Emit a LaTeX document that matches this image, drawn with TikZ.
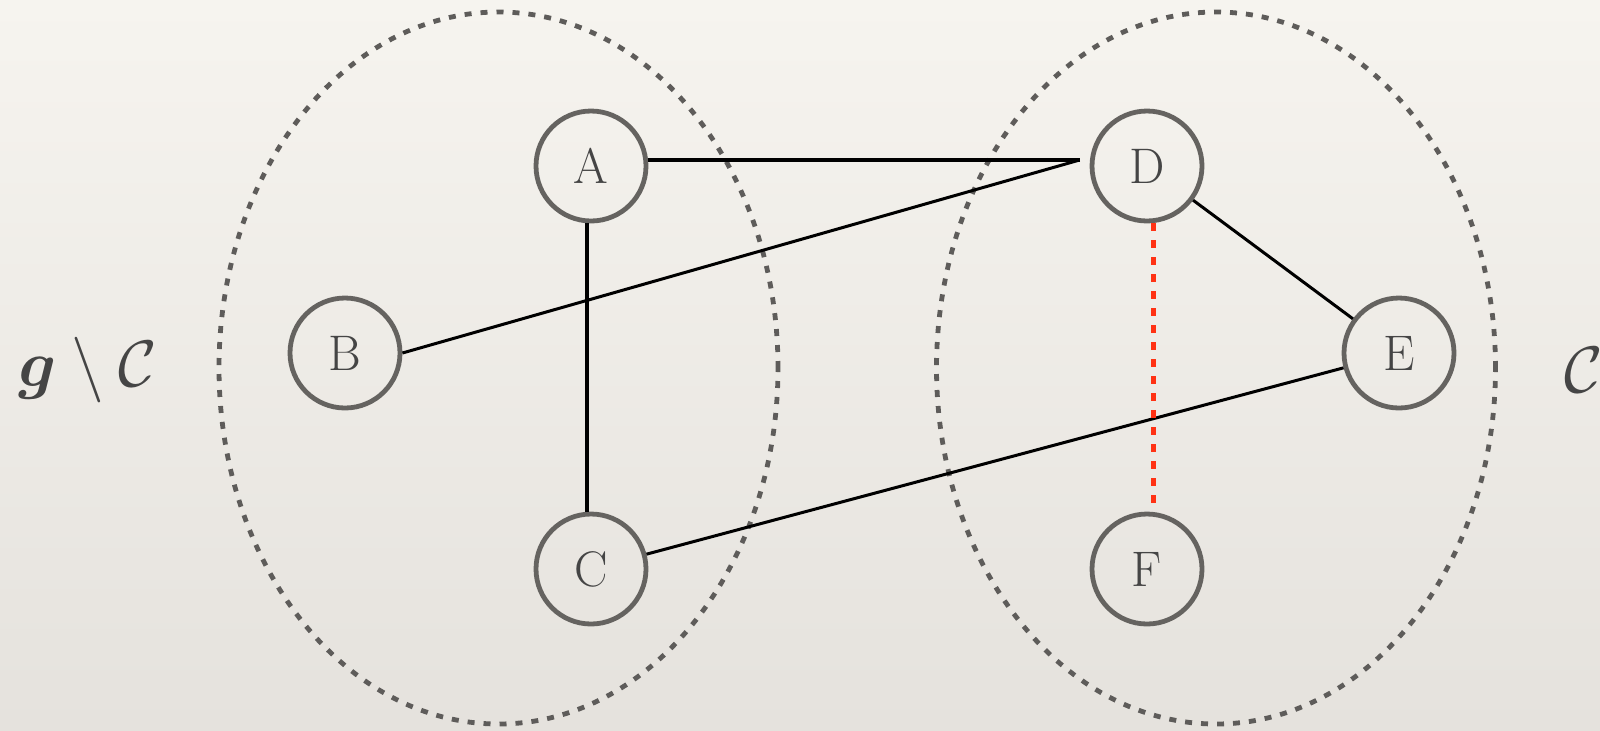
\documentclass[tikz,border=0pt]{standalone}
\usepackage{amsmath,amssymb,bm,graphicx}
\usetikzlibrary{shapes.geometric}
\definecolor{paperTop}{HTML}{F6F4EF}
\definecolor{paperBot}{HTML}{E5E2DD}
\definecolor{ringgray}{HTML}{656360}
\definecolor{textgray}{HTML}{454545}
\definecolor{dotgray}{HTML}{5E5C5A}
\definecolor{redlink}{HTML}{FF3214}
\newcommand{\biglabel}[1]{\scalebox{1.32}{#1}}
\tikzset{
  vertex/.style={circle, draw=ringgray, line width=2.4pt, minimum size=55pt,
    inner sep=0pt, text=textgray, font=\fontsize{25}{30}\selectfont},
  group/.style={ellipse, draw=dotgray, line width=2.4pt, inner sep=0pt,
    minimum width=279.5pt, minimum height=356pt,
    dash pattern=on 3.5pt off 4.5pt},
  edge/.style={black, line width=1.5pt},
  thickedge/.style={black, line width=2.3pt},
  cutedge/.style={redlink, line width=2.5pt, dash pattern=on 4pt off 4.5pt},
  setlabel/.style={text=textgray, inner sep=0pt, font=\fontsize{25}{30}\selectfont}
}
\begin{document}
\begin{tikzpicture}[x=0.5pt, y=-0.5pt]
  % paper background
  \shade[top color=paperTop, bottom color=paperBot] (0,0) rectangle (1600,730);
  \useasboundingbox (0,0) rectangle (1600,730);

  % the two vertex groups
  \node[group] (left)  at (498.5,368) {};
  \node[group] (right) at (1216,368) {};

  % vertices
  \node[vertex] (A) at (591,166) {A};
  \node[vertex] (B) at (345,353) {B};
  \node[vertex] (C) at (591,569) {C};
  \node[vertex] (D) at (1147,166) {D};
  \node[vertex] (E) at (1399,353) {E};
  \node[vertex] (F) at (1147,569) {F};

  % shared entry point on the left side of D
  \coordinate (dw) at ([shift={(-10,-6)}]D.west);

  % edges
  \draw[thickedge] ([xshift=-2]A.south) -- ([xshift=-2]C.north);
  \draw[thickedge] (A.east |- dw) -- (dw);
  \draw[edge] (B.east) -- (dw);
  \draw[edge] (C) -- (E);
  \draw[edge] (D) -- (E);
  \draw[cutedge] ([xshift=3]D.south) -- ([xshift=3]F.north);

  % set labels
  \node[setlabel, anchor=west] (gc) at (18,370) {\biglabel{$\bm{g}\mathbin{\backslash}\mathcal{C}$}};
  \node[setlabel, anchor=west] (cc) at (1564,370) {\biglabel{$\mathcal{C}$}};
\end{tikzpicture}
\end{document}
